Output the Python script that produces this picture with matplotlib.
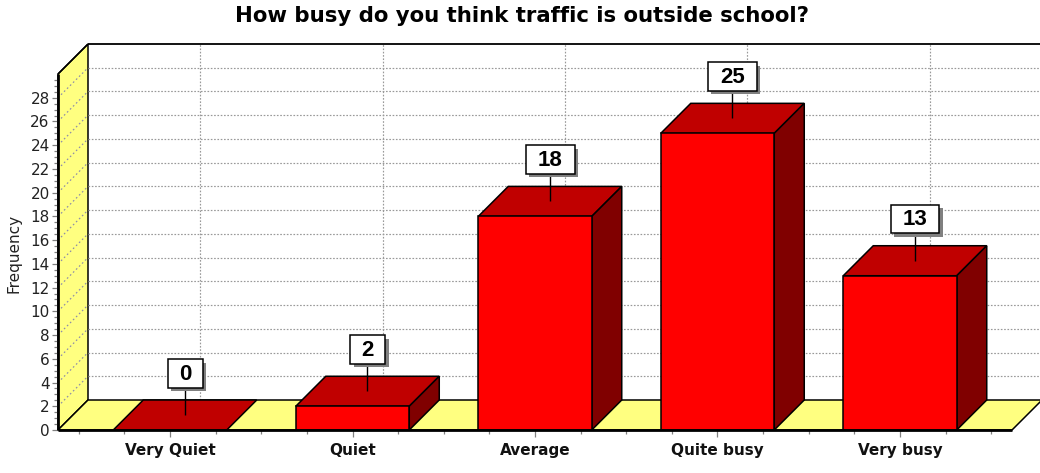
import matplotlib
matplotlib.use("Agg")
import matplotlib.pyplot as plt
from matplotlib.patches import Polygon, Rectangle
import numpy as np

categories = ["Very Quiet", "Quiet", "Average", "Quite busy", "Very busy"]
values = [0, 2, 18, 25, 13]
title = "How busy do you think traffic is outside school?"
ylabel = "Frequency"

W, H = 1040, 473
L, R, B, T = 58, 1012, 430, 74   # plot front rectangle in pixels
DEPTH = 30
YELLOW, FRONT, TOP, SIDE = "#FFFF80", "#FF0000", "#C00000", "#800000"
GRID = "#999999"
WALLGRID = "#8c8ca8"

fig = plt.figure(figsize=(W / 100, H / 100), dpi=100, facecolor="white")
ax = fig.add_axes([L / W, 1 - B / H, (R - L) / W, (B - T) / H])
margin = 112 / 182.5
ax.set_xlim(-margin, len(categories) - 1 + margin)
ax.set_ylim(0, 30)
ax.patch.set_alpha(0)
for s in ax.spines.values():
    s.set_visible(False)

x0, x1 = ax.get_xlim()
y0, y1 = ax.get_ylim()
px = (x1 - x0) / (R - L)   # data units per pixel
py = (y1 - y0) / (B - T)
dx, dy = DEPTH * px, DEPTH * py


def poly(pts, fc, ec="black", lw=1.1, z=2):
    ax.add_patch(Polygon(pts, closed=True, fc=fc, ec=ec, lw=lw, zorder=z,
                         clip_on=False, joinstyle="miter"))


def line(xs, ys, color="black", lw=1.0, ls="-", z=2):
    ax.plot(xs, ys, color=color, lw=lw, ls=ls, zorder=z, clip_on=False,
            solid_capstyle="butt", dash_capstyle="butt")


dots = (0, (1.4, 1.4))
wall_dots = (0, (1.4, 2.2))
# walls and floor
poly([(x0, y0), (x0 + dx, y0 + dy), (x0 + dx, y1 + dy), (x0, y1)], YELLOW, z=1)
poly([(x0, y0), (x1, y0), (x1 + dx, y0 + dy), (x0 + dx, y0 + dy)], YELLOW, z=1)

# back and side grid
yticks = np.arange(0, 30, 2)
for t in yticks[1:]:
    line([x0 + dx, x1 + dx], [t + dy, t + dy], GRID, 0.85, dots, 1.5)
    line([x0, x0 + dx], [t, t + dy], WALLGRID, 0.85, wall_dots, 1.5)
xpos = np.arange(len(categories))
for p in xpos:
    line([p + dx, p + dx], [y0 + dy, y1 + dy], GRID, 0.85, dots, 0.5)

# frame lines
line([x0 + dx, x1 + dx], [y1 + dy, y1 + dy], "black", 1.3, z=3)
line([x0, x0 + dx], [y1, y1 + dy], "black", 1.1, z=3)
line([x0, x0], [y0, y1], "black", 2.0, z=3)
line([x0, x1], [y0, y0], "black", 2.0, z=6)

# bars
bw = 113.5 * px
for p, v in zip(xpos, values):
    a, b = p - bw / 2, p + bw / 2
    poly([(a, v), (b, v), (b + dx, v + dy), (a + dx, v + dy)], TOP, z=4)
    if v > 0:
        poly([(b, 0), (b + dx, dy), (b + dx, v + dy), (b, v)], SIDE, z=4)
        poly([(a, 0), (b, 0), (b, v), (a, v)], FRONT, z=5)

# value callouts
for p, v in zip(xpos, values):
    cx, cy = p + dx / 2, v + dy / 2
    bottom = cy + 27.5 * py
    w = (35 if v < 10 else 49) * px
    h = 28.5 * py
    line([cx, cx], [cy, bottom], "black", 1.0, z=7)
    ax.add_patch(Rectangle((cx - w / 2 + 3.5 * px, bottom - 3.5 * py), w, h,
                           fc="#808080", ec="none", zorder=7, clip_on=False))
    ax.add_patch(Rectangle((cx - w / 2, bottom), w, h, fc="white", ec="black",
                           lw=1.1, zorder=8, clip_on=False))
    ax.text(cx, bottom + h / 2 + 1.5 * py, str(v), ha="center", va="center_baseline", zorder=9,
            family="Liberation Sans", weight="bold", fontsize=16, color="black")

# axes ticks and labels
ax.set_yticks(yticks)
ax.set_yticks(np.arange(0, 30, 0.5), minor=True)
ax.set_xticks(xpos)
ax.set_xticks(np.arange(-0.5, 4.75, 0.25), minor=True)
ax.set_xticklabels(categories, fontsize=11, fontweight="bold", color="#111111")
ax.tick_params(axis="y", which="major", length=4.5, width=0.9, color="#808080",
               labelsize=11, pad=1.5, labelcolor="#222222")
ax.tick_params(axis="y", which="minor", length=3, width=0.9, color="#808080")
ax.tick_params(axis="x", which="major", length=5, width=0.9, color="#808080", pad=4)
ax.tick_params(axis="x", which="minor", length=3, width=0.9, color="#808080")

fig.text(14 / W, 1 - 253 / H, ylabel, rotation=90, ha="center", va="center",
         fontsize=11, color="#222222")
fig.text(522 / W, 1 - 16 / H, title, ha="center", va="center",
         fontsize=15.3, fontweight="bold", color="black")

fig.savefig("out.png", dpi=100, facecolor="white")
